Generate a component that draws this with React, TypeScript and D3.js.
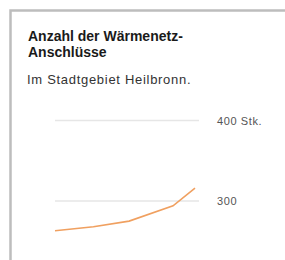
import React from "react";
import * as d3 from "d3";

const monthIndex = [0, 14, 27, 43, 51];
const connections = [263, 268, 275, 294, 316];
const yTicks = [300, 400];
const yTickLabels = ["300", "400 Stk."];
const title = ["Anzahl der Wärmenetz-", "Anschlüsse"];
const subtitle = "Im Stadtgebiet Heilbronn.";

export default function App() {
  const W = 285, H = 260;
  const x = d3.scaleLinear().domain([0, 51]).range([55, 195]);
  const y = d3.scaleLinear().domain([300, 400]).range([201, 120.5]);
  const line = d3
    .line<number>()
    .x((_, i) => x(monthIndex[i]))
    .y((d) => y(d));
  const font = "'Liberation Sans', Arial, sans-serif";
  return (
    <div style={{ position: "absolute", left: 0, top: 0 }}>
      <svg width={W} height={H} style={{ display: "block", background: "#fff" }}>
        <rect x={10.5} y={10.5} width={W} height={H} fill="#fff" stroke="#bdbdbd" strokeWidth={2.5} />
        {title.map((t, i) => (
          <text key={i} x={28} y={40.5 + i * 16} fontFamily={font} fontWeight="bold" fontSize={14} fill="#1a1a1a">
            {t}
          </text>
        ))}
        <text x={27} y={84} fontFamily={font} fontSize={13} letterSpacing={0.7} fill="#333">
          {subtitle}
        </text>
        {yTicks.map((t, i) => (
          <g key={t}>
            <line x1={55} x2={199} y1={y(t)} y2={y(t)} stroke="#e6e6e6" strokeWidth={1.5} />
            <text x={217} y={y(t) + 4} fontFamily={font} fontSize={11} letterSpacing={0.6} fill="#555">
              {yTickLabels[i]}
            </text>
          </g>
        ))}
        <path d={line(connections) || ""} fill="none" stroke="#f0a060" strokeWidth={1.6} />
      </svg>
    </div>
  );
}
